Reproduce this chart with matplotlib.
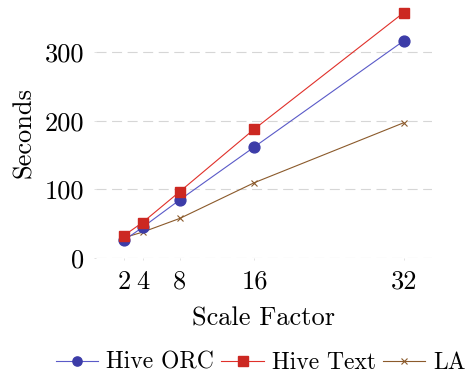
import matplotlib
matplotlib.use("Agg")
import matplotlib.pyplot as plt

plt.rcParams['font.family'] = ['cmr10', 'DejaVu Serif']
plt.rcParams['axes.formatter.use_mathtext'] = True

scale = [2, 4, 8, 16, 32]
hive_orc = [26, 45, 85, 162, 316]
hive_text = [33, 52, 97, 188, 357]
la = [30, 38, 58, 110, 197]
yticks = [0, 100, 200, 300]

fig = plt.figure(figsize=(4.7, 3.76), dpi=100)
ax = fig.add_axes([0.204, 0.313, 0.7145, 0.668])

ax.plot(scale, hive_orc, color='#5a5ac8', lw=0.8, marker='o', ms=7.8,
        mfc='#3c3ca8', mec='#3c3ca8', label='Hive ORC', clip_on=False, zorder=3)
ax.plot(scale, hive_text, color='#e0302a', lw=0.8, marker='s', ms=7.8,
        mfc='#cc2822', mec='#cc2822', label='Hive Text', clip_on=False, zorder=4)
ax.plot(scale, la, color='#8b5a2b', lw=0.8, marker='x', ms=5, mew=0.8,
        label='LA', clip_on=False, zorder=2)

fs = 19
ax.set_xlim(-1, 35)
ax.set_ylim(0, 365)
ax.set_xticks(scale)
ax.set_xticklabels([str(s) for s in scale])
ax.set_yticks(yticks)
ax.set_yticklabels([str(t) for t in yticks])
for s in ax.spines.values():
    s.set_visible(False)
ax.tick_params(axis='both', length=1.5, width=0.4, color='#cccccc', labelsize=fs, pad=7)
ax.yaxis.grid(True, color='#d6d6d6', ls=(0, (9, 5)), lw=0.8)
ax.set_axisbelow(True)
ax.set_xlabel('Scale Factor', fontsize=fs, labelpad=9)
ax.set_ylabel('Seconds', fontsize=fs, labelpad=6)

fig.legend(loc='center', bbox_to_anchor=(0.555, 0.035), ncol=3, frameon=False,
           fontsize=17, handlelength=1.8, handletextpad=0.34, columnspacing=0.3,
           borderaxespad=0, markerscale=0.85)

fig.savefig('out.png', dpi=100)
